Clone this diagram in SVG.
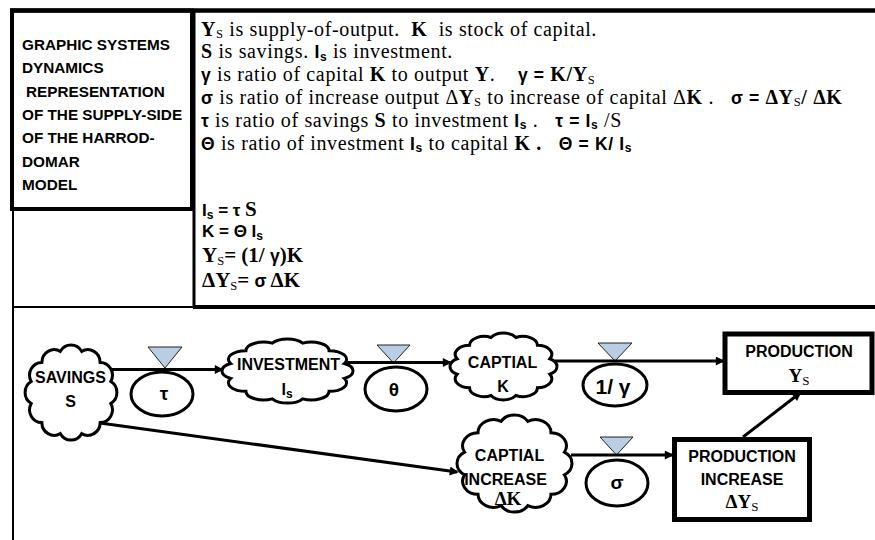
<svg xmlns="http://www.w3.org/2000/svg" width="875" height="540" viewBox="0 0 875 540">
<style>
.fr{stroke:#000;fill:none}
.ttl{font-family:"Liberation Sans",Arial,sans-serif;font-weight:bold;font-size:15.3px;fill:#000}
.bd{font-family:"Liberation Serif","Times New Roman",serif;font-size:21px;fill:#000}
.df{font-family:"Liberation Serif","Times New Roman",serif;font-size:20px;letter-spacing:0.64px;fill:#000}
.b{font-weight:bold}
.sb{font-size:12.5px;font-weight:normal}
.g{font-family:"Liberation Sans",Arial,sans-serif;font-weight:bold;font-size:17.5px}
.g2{font-family:"Liberation Sans",Arial,sans-serif;font-weight:bold;font-size:17px}
.gs{font-family:"Liberation Sans",Arial,sans-serif;font-weight:bold;font-size:12px}
.cl{fill:#fff;stroke:#000;stroke-width:3}
.tri{fill:#B9CDE5;stroke:#222;stroke-width:1}
.ell{fill:#fff;stroke:#000;stroke-width:3}
.box{fill:#fff;stroke:#000;stroke-width:5}
.nt{font-family:"Liberation Sans",Arial,sans-serif;font-weight:bold;font-size:16px;text-anchor:middle;fill:#000}
.vt{font-family:"Liberation Sans",Arial,sans-serif;font-weight:bold;font-size:19px;text-anchor:middle;fill:#000}
.sv{font-family:"Liberation Serif","Times New Roman",serif;font-weight:bold;font-size:19px;text-anchor:middle;fill:#000}
.ln{stroke:#000;stroke-width:3;fill:none;marker-end:url(#ah)}
</style>
<defs>
<marker id="ah" viewBox="0 0 10 10" refX="8" refY="5" markerWidth="3.4" markerHeight="3" orient="auto" markerUnits="strokeWidth"><path d="M0,0 L10,5 L0,10 Z" fill="#000"/></marker>
<path id="cloud" vector-effect="non-scaling-stroke" d="M38.64,10.35 A12,12 0 0 1 28.28,28.28 A12,12 0 0 1 10.35,38.64 A12,12 0 0 1 -10.35,38.64 A12,12 0 0 1 -28.28,28.28 A12,12 0 0 1 -38.64,10.35 A12,12 0 0 1 -38.64,-10.35 A12,12 0 0 1 -28.28,-28.28 A12,12 0 0 1 -10.35,-38.64 A12,12 0 0 1 10.35,-38.64 A12,12 0 0 1 28.28,-28.28 A12,12 0 0 1 38.64,-10.35 A12,12 0 0 1 38.64,10.35 Z"/>
</defs>
<rect width="875" height="540" fill="#fff"/>
<g id="frame" class="fr">
<line x1="10" y1="10.5" x2="875" y2="10.5" stroke-width="4.5"/>
<rect x="12" y="10.5" width="180" height="198.5" stroke-width="4"/>
<line x1="194" y1="10" x2="194" y2="308" stroke-width="3"/>
<line x1="193" y1="307" x2="875" y2="307" stroke-width="4"/>
<line x1="13" y1="209" x2="13" y2="540" stroke-width="2"/>
<line x1="13" y1="307" x2="194" y2="307" stroke-width="2"/>
</g>
<g id="title" class="ttl">
<text x="22" y="50">GRAPHIC SYSTEMS</text>
<text x="22" y="73.3">DYNAMICS</text>
<text x="26" y="96.6">REPRESENTATION</text>
<text x="22" y="119.9">OF THE SUPPLY-SIDE</text>
<text x="22" y="143.2">OF THE HARROD-</text>
<text x="22" y="166.5">DOMAR</text>
<text x="22" y="189.8">MODEL</text>
</g>
<g id="definitions">
<text class="df" x="201" y="35.5" xml:space="preserve"><tspan class="b">Y</tspan><tspan class="sb" dy="2.5">S</tspan><tspan dy="-2.5"> is supply-of-output.  </tspan><tspan class="b">K</tspan>  is stock of capital.</text>
<text class="df" x="201" y="58.3" xml:space="preserve"><tspan class="b">S</tspan> is savings. <tspan class="g">I</tspan><tspan class="gs" dy="2.5">s</tspan><tspan dy="-2.5"> is investment.</tspan></text>
<text class="df" x="201" y="81.1" xml:space="preserve"><tspan class="g">γ</tspan> is ratio of capital <tspan class="b">K</tspan> to output <tspan class="b">Y</tspan>.    <tspan class="g">γ = </tspan><tspan class="b">K/Y</tspan><tspan class="sb" dy="2.5">S</tspan></text>
<text class="df" x="201" y="103.9" xml:space="preserve"><tspan class="g">σ</tspan> is ratio of increase output Δ<tspan class="b">Y</tspan><tspan class="sb" dy="2.5">S</tspan><tspan dy="-2.5"> to increase of capital Δ</tspan><tspan class="b">K</tspan> .   <tspan class="g">σ = </tspan><tspan class="b">ΔY</tspan><tspan class="sb" dy="2.5">S</tspan><tspan class="b" dy="-2.5">/ ΔK</tspan></text>
<text class="df" x="201" y="126.7" xml:space="preserve"><tspan class="g">τ</tspan> is ratio of savings <tspan class="b">S</tspan> to investment <tspan class="g">I</tspan><tspan class="gs" dy="2.5">s</tspan><tspan dy="-2.5"> .   </tspan><tspan class="g">τ = I</tspan><tspan class="gs" dy="2.5">s</tspan><tspan dy="-2.5"> /S</tspan></text>
<text class="df" x="201" y="149.5" xml:space="preserve"><tspan class="g">Θ</tspan> is ratio of investment <tspan class="g">I</tspan><tspan class="gs" dy="2.5">s</tspan><tspan dy="-2.5"> to capital </tspan><tspan class="b">K .</tspan>   <tspan class="g">Θ = K/ I</tspan><tspan class="gs" dy="2.5">s</tspan></text>
</g>
<g id="equations">
<text class="bd" x="202" y="216" xml:space="preserve"><tspan class="g2">I</tspan><tspan class="gs" dy="2.5">s</tspan><tspan class="g2" dy="-2.5"> = τ </tspan><tspan class="b">S</tspan></text>
<text class="g2" x="202" y="237" xml:space="preserve">K = Θ I<tspan class="gs" dy="2.5">s</tspan></text>
<text class="bd" x="202" y="262" xml:space="preserve"><tspan class="b">Y</tspan><tspan class="sb" dy="2.5">S</tspan><tspan class="b" dy="-2.5">= (1/ </tspan><tspan class="g">γ</tspan><tspan class="b">)K</tspan></text>
<text class="bd" x="202" y="287" xml:space="preserve"><tspan class="b">ΔY</tspan><tspan class="sb" dy="2.5">S</tspan><tspan class="b" dy="-2.5">= </tspan><tspan class="g">σ</tspan><tspan class="b"> ΔK</tspan></text>
</g>
<g id="savings">
<use href="#cloud" class="cl" transform="translate(71,392.5) scale(1.03,1.065)"/>
<text class="nt" x="70.5" y="383">SAVINGS</text>
<text class="nt" x="70.5" y="407">S</text>
</g>
<g id="valve-tau">
<ellipse class="ell" cx="162" cy="394" rx="31" ry="22"/>
<polygon class="tri" points="148,347 182,347 165,368"/>
<text class="vt" x="164" y="400">τ</text>
</g>
<g id="investment">
<use href="#cloud" class="cl" transform="translate(287.5,371) scale(1.47,0.72)"/>
<text class="nt" x="288.5" y="370">INVESTMENT</text>
<text class="nt" x="287" y="395">I<tspan font-size="12" dy="3">s</tspan></text>
</g>
<g id="valve-theta">
<ellipse class="ell" cx="396" cy="389" rx="31" ry="22"/>
<polygon class="tri" points="377,345 410,345 393.5,363"/>
<text class="vt" x="394" y="396">θ</text>
</g>
<g id="capital">
<use href="#cloud" class="cl" transform="translate(503.5,366.5) scale(1.2,0.75)"/>
<text class="nt" x="502.5" y="368">CAPTIAL</text>
<text class="nt" x="503" y="392">K</text>
</g>
<g id="valve-gamma">
<ellipse class="ell" cx="615" cy="385" rx="32" ry="21"/>
<polygon class="tri" points="598,343 632,343 615,361"/>
<text class="vt" x="613" y="394" style="font-size:21px">1/ γ</text>
</g>
<g id="production">
<rect class="box" x="725" y="334" width="147" height="58.5"/>
<text class="nt" x="799" y="357">PRODUCTION</text>
<text class="sv" x="799" y="382">Y<tspan font-size="13" font-weight="normal" dy="3">S</tspan></text>
</g>
<g id="capital-increase">
<use href="#cloud" class="cl" transform="translate(514.5,463.5) scale(1.29,1.09)"/>
<text class="nt" x="509.5" y="461">CAPTIAL</text>
<text class="nt" x="505.5" y="485">INCREASE</text>
<text class="sv" x="508" y="505">ΔK</text>
</g>
<g id="valve-sigma">
<ellipse class="ell" cx="617" cy="483" rx="31" ry="23"/>
<polygon class="tri" points="600,437 633,437 616.5,455"/>
<text class="vt" x="617" y="489">σ</text>
</g>
<g id="production-increase">
<rect class="box" x="674.5" y="439.5" width="135" height="80"/>
<text class="nt" x="742" y="462">PRODUCTION</text>
<text class="nt" x="742" y="485">INCREASE</text>
<text class="sv" x="742" y="508">ΔY<tspan font-size="13" font-weight="normal" dy="3">S</tspan></text>
</g>
<g id="connectors">
<line class="ln" x1="111" y1="369.5" x2="222" y2="369.5"/>
<line class="ln" x1="345" y1="362.5" x2="450" y2="362.5"/>
<line class="ln" x1="555" y1="361" x2="723" y2="361"/>
<line class="ln" x1="571" y1="455" x2="672" y2="455"/>
<line class="ln" x1="100" y1="423" x2="457" y2="472"/>
<line class="ln" x1="743" y1="437" x2="800" y2="393"/>
</g>
</svg>
